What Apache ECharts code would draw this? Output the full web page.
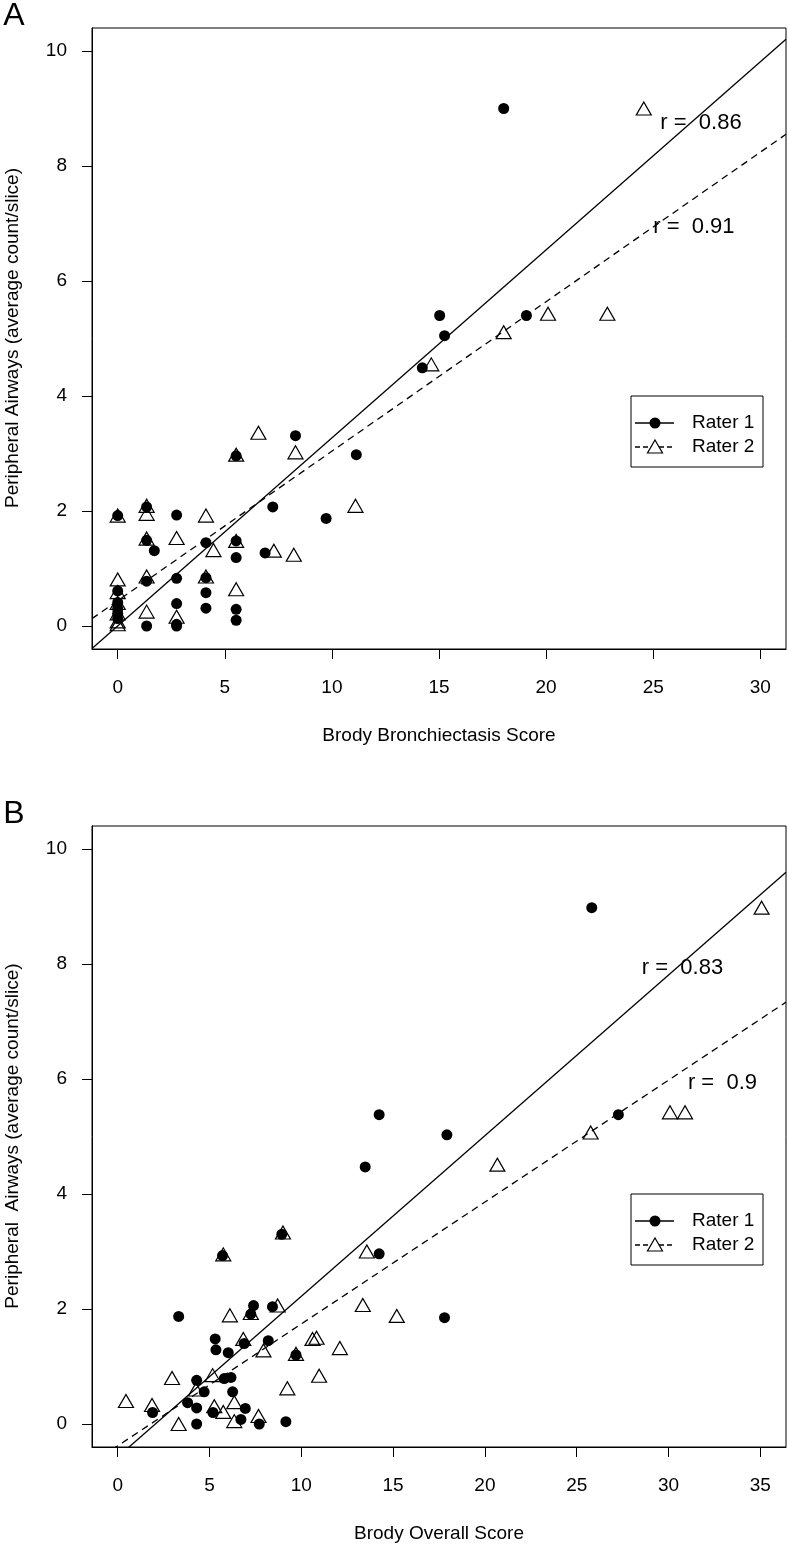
<!DOCTYPE html>
<html>
<head>
<meta charset="utf-8">
<script src="https://cdn.jsdelivr.net/npm/echarts/dist/echarts.min.js"></script>
<style>
html,body{margin:0;padding:0;background:#fff;}
#chart{width:788px;height:1547px;}
</style>
</head>
<body>
<div id="chart"></div>
<script>
// ---- Data ----
const xTicksA = [0, 5, 10, 15, 20, 25, 30];
const xTicksB = [0, 5, 10, 15, 20, 25, 30, 35];
const yTicks = [0, 2, 4, 6, 8, 10];

// Panel A: Brody Bronchiectasis Score vs Peripheral Airways
const aRater1 = [[0,1.92],[1.35,2.07],[2.75,1.93],[1.35,1.49],[1.71,1.31],[4.12,1.45],[5.53,1.48],[5.53,1.19],[6.88,1.27],[7.24,2.07],[1.35,0.78],[2.75,0.83],[4.12,0.84],[4.12,0.58],[2.75,0.39],[4.12,0.31],[5.53,0.29],[5.53,0.10],[1.35,0.0],[2.75,0.03],[2.75,0.0],[5.53,2.96],[8.30,3.31],[11.14,2.98],[9.73,1.87],[14.22,4.49],[15.03,5.40],[15.26,5.05],[19.08,5.40],[18.02,9.0],[0,0.61],[0,0.41],[0,0.30],[0,0.22],[0,0.13]];
const aRater2 = [[0,1.92],[1.35,2.09],[1.35,1.95],[4.12,1.92],[1.35,1.52],[2.75,1.53],[4.47,1.32],[5.53,1.48],[7.29,1.31],[0,0.81],[1.35,0.86],[4.12,0.86],[5.53,0.64],[1.35,0.25],[2.75,0.16],[5.53,2.98],[6.57,3.36],[8.30,3.02],[11.1,2.09],[8.22,1.24],[14.64,4.55],[18.02,5.11],[20.09,5.43],[22.86,5.43],[24.56,9.0],[0,0.59],[0,0.40],[0,0.22],[0,0.08],[0,0.03]];

// Panel B: Brody Overall Score vs Peripheral Airways
const bRater1 = [[25.82,8.98],[14.24,5.38],[27.27,5.38],[17.93,5.03],[13.48,4.47],[8.94,3.30],[14.24,2.96],[5.71,2.93],[7.4,2.06],[8.43,2.04],[7.25,1.91],[3.32,1.87],[17.8,1.85],[5.31,1.48],[8.2,1.45],[6.89,1.40],[5.35,1.29],[6.02,1.24],[9.71,1.20],[6.17,0.81],[5.80,0.79],[4.30,0.76],[4.71,0.56],[6.26,0.56],[3.81,0.37],[4.30,0.28],[6.95,0.27],[1.90,0.20],[5.19,0.20],[6.71,0.08],[9.16,0.04],[7.71,0.0],[4.30,0.0]];
const bRater2 = [[35.07,8.98],[30.08,5.42],[30.90,5.42],[25.76,5.07],[20.68,4.51],[9.0,3.33],[13.57,3.0],[5.75,2.95],[8.71,2.06],[13.35,2.07],[7.25,1.93],[6.11,1.89],[15.2,1.88],[10.83,1.50],[10.61,1.48],[6.84,1.48],[12.1,1.32],[7.94,1.28],[9.71,1.22],[5.17,0.85],[10.97,0.84],[2.96,0.80],[9.24,0.62],[4.26,0.60],[0.45,0.40],[6.35,0.38],[1.87,0.33],[5.26,0.31],[5.75,0.21],[7.67,0.14],[6.35,0.05],[3.32,0.0]];

// Fitted lines [intercept, slope]
const fitA1 = [0.0, 0.327];
const fitA2 = [0.44, 0.26];
const fitB1 = [-0.573, 0.2794];
const fitB2 = [-0.38, 0.212];

// Correlation labels
const rA = ['0.86', '0.91'];
const rB = ['0.83', '0.9'];

// ---- Chart ----
const FONT = '"Liberation Sans", Arial, Helvetica, sans-serif';
const xRangeA = [-1.2, 31.2];
const xRangeB = [-1.4, 36.4];
const yRange = [-0.4, 10.4];

function fitLine(c, r) {
  return [[r[0], c[0] + c[1] * r[0]], [r[1], c[0] + c[1] * r[1]]];
}

function xAxis(grid, range, ticks) {
  return {
    gridIndex: grid, type: 'value', min: range[0], max: range[1],
    axisLine: {show: true, onZero: false, lineStyle: {color: '#000', width: 1}},
    axisTick: {show: true, inside: false, length: 10, customValues: ticks, lineStyle: {color: '#000', width: 1}},
    axisLabel: {customValues: ticks, margin: 29, color: '#000', fontSize: 19, fontFamily: FONT},
    splitLine: {show: false}
  };
}
function yAxis(grid) {
  return {
    gridIndex: grid, type: 'value', min: yRange[0], max: yRange[1],
    axisLine: {show: true, onZero: false, lineStyle: {color: '#000', width: 1}},
    axisTick: {show: true, inside: false, length: 10, customValues: yTicks, lineStyle: {color: '#000', width: 1}},
    axisLabel: {customValues: yTicks, margin: 25, color: '#000', fontSize: 19, fontFamily: FONT},
    splitLine: {show: false}
  };
}
function dots(idx, data) {
  return {type: 'scatter', xAxisIndex: idx, yAxisIndex: idx, data: data, symbol: 'circle', symbolSize: 11,
    itemStyle: {color: '#000', opacity: 1}, emphasis: {disabled: true}, silent: true, z: 3};
}
function tris(idx, data) {
  return {type: 'scatter', xAxisIndex: idx, yAxisIndex: idx, data: data, symbol: 'triangle', symbolSize: [15, 13],
    itemStyle: {color: 'rgba(0,0,0,0)', borderColor: '#000', borderWidth: 1.2, opacity: 1}, emphasis: {disabled: true}, silent: true, z: 4};
}
function fit(idx, c, r, dashed) {
  return {type: 'line', xAxisIndex: idx, yAxisIndex: idx, data: fitLine(c, r), symbol: 'none', showSymbol: false,
    clip: true, silent: true, z: 2,
    lineStyle: {color: '#000', width: 1.3, opacity: 1, type: dashed ? [7, 5] : 'solid'}};
}
function rLabel(idx, x, y, txt) {
  return {type: 'scatter', xAxisIndex: idx, yAxisIndex: idx, data: [[x, y]], symbolSize: 1,
    itemStyle: {color: 'rgba(0,0,0,0)', opacity: 1}, emphasis: {disabled: true}, silent: true, z: 5,
    label: {show: true, position: 'inside', formatter: 'r =  ' + txt, color: '#000', opacity: 1, fontSize: 22, fontFamily: FONT}};
}
function legend(top) {
  const cy1 = top + 27, cy2 = top + 51;
  return [
    {type: 'rect', shape: {x: 631, y: top, width: 132, height: 71}, style: {fill: '#fff', stroke: '#000', lineWidth: 1}, z: 100},
    {type: 'line', shape: {x1: 635, y1: cy1, x2: 674, y2: cy1}, style: {stroke: '#000', lineWidth: 1.3}, z: 101},
    {type: 'circle', shape: {cx: 655, cy: cy1, r: 5.5}, style: {fill: '#000'}, z: 102},
    {type: 'text', x: 692, y: cy1, style: {text: 'Rater 1', fontSize: 19, fontFamily: FONT, fill: '#000', verticalAlign: 'middle', align: 'left'}, z: 101},
    {type: 'line', shape: {x1: 635, y1: cy2, x2: 674, y2: cy2}, style: {stroke: '#000', lineWidth: 1.3, lineDash: [5, 3]}, z: 101},
    {type: 'polygon', shape: {points: [[655, cy2 - 7], [662.5, cy2 + 6], [647.5, cy2 + 6]]}, style: {fill: '#fff', stroke: '#000', lineWidth: 1.2}, z: 102},
    {type: 'text', x: 692, y: cy2, style: {text: 'Rater 2', fontSize: 19, fontFamily: FONT, fill: '#000', verticalAlign: 'middle', align: 'left'}, z: 101}
  ];
}
function txt(x, y, s, size, rot) {
  return {type: 'text', x: x, y: y, rotation: rot || 0,
    style: {text: s, fontSize: size, fontFamily: FONT, fill: '#000', align: 'center', verticalAlign: 'middle'}, z: 100};
}

const chart = echarts.init(document.getElementById('chart'), null, {renderer: 'canvas'});
chart.setOption({
  animation: false,
  backgroundColor: '#fff',
  grid: [
    {left: 92, top: 28, width: 694, height: 621, show: true, borderColor: '#000', borderWidth: 1, backgroundColor: 'rgba(0,0,0,0)'},
    {left: 92, top: 826, width: 694, height: 621, show: true, borderColor: '#000', borderWidth: 1, backgroundColor: 'rgba(0,0,0,0)'}
  ],
  xAxis: [xAxis(0, xRangeA, xTicksA), xAxis(1, xRangeB, xTicksB)],
  yAxis: [yAxis(0), yAxis(1)],
  series: [
    fit(0, fitA1, xRangeA, false),
    fit(0, fitA2, xRangeA, true),
    dots(0, aRater1),
    tris(0, aRater2),
    rLabel(0, 27.23, 8.75, rA[0]),
    rLabel(0, 26.9, 6.94, rA[1]),
    fit(1, fitB1, xRangeB, false),
    fit(1, fitB2, xRangeB, true),
    dots(1, bRater1),
    tris(1, bRater2),
    rLabel(1, 30.76, 7.93, rB[0]),
    rLabel(1, 32.94, 5.93, rB[1])
  ],
  graphic: [
    txt(14, 16, 'A', 32),
    txt(14, 814, 'B', 32),
    txt(439, 736, 'Brody Bronchiectasis Score', 19),
    txt(439, 1534, 'Brody Overall Score', 19),
    txt(13, 338, 'Peripheral Airways (average count/slice)', 19, Math.PI / 2),
    txt(13, 1136, 'Peripheral  Airways (average count/slice)', 19, Math.PI / 2)
  ].concat(legend(396)).concat(legend(1194))
});
</script>
</body>
</html>
